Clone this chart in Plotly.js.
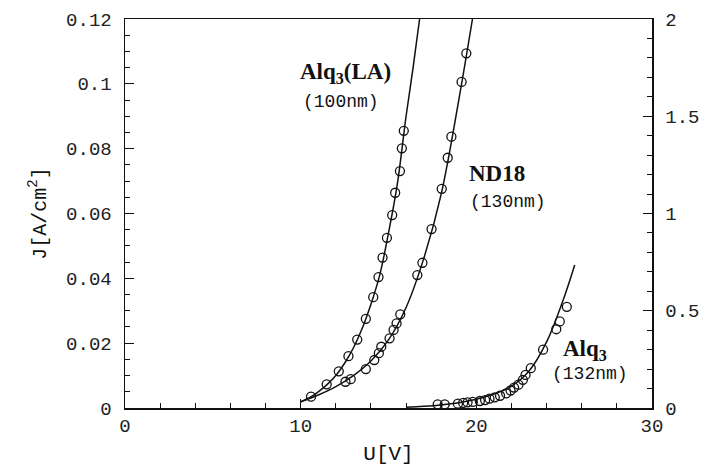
<!DOCTYPE html>
<html>
<head>
<meta charset="utf-8">
<script src="https://cdn.plot.ly/plotly-3.0.1.min.js"></script>
<style>html,body{margin:0;padding:0;background:#fff;}</style>
</head>
<body>
<div id="chart" style="width:701px;height:470px;"></div>
<script>
// Alq3(LA) 100nm — measured points (left axis, A/cm^2)
const alqLA_U = [10.59,11.48,12.17,12.72,13.22,13.71,14.13,14.43,14.66,14.91,15.21,15.38,15.65,15.76,15.87];
const alqLA_J = [0.0035,0.0073,0.0113,0.0160,0.0211,0.0275,0.0342,0.0404,0.0464,0.0525,0.0595,0.0664,0.0731,0.0801,0.0855];
// Alq3(LA) fit curve
const alqLAfit_U = [10,10.5,11,11.5,12,12.5,13,13.5,14,14.5,15,15.5,16,16.4,16.77];
const alqLAfit_J = [0.0019,0.0032,0.0050,0.0072,0.0100,0.0138,0.0185,0.0245,0.032,0.041,0.054,0.069,0.090,0.105,0.12];

// ND18 130nm — measured points (left axis)
const nd18_U = [12.55,12.85,13.71,14.19,14.45,14.59,15.06,15.29,15.46,15.67,16.64,16.93,17.45,18.03,18.37,18.58,19.16,19.43];
const nd18_J = [0.0081,0.0089,0.0120,0.0148,0.0169,0.0189,0.0215,0.0241,0.0261,0.0289,0.0410,0.0448,0.0552,0.0676,0.0772,0.0837,0.1006,0.1094];
// ND18 fit curve
const nd18fit_U = [10,11,12,13,14,15,16,17,18,19,19.78];
const nd18fit_J = [0.0019,0.0040,0.0066,0.0100,0.0145,0.0210,0.031,0.046,0.066,0.095,0.12];

// Alq3 132nm — measured points (right axis)
const alq_U = [17.8,18.2,18.95,19.25,19.5,19.8,20.2,20.5,20.75,21.05,21.35,21.7,21.95,22.15,22.4,22.65,22.8,23.1,23.8,24.55,24.75,25.15];
const alq_J = [0.019,0.019,0.022,0.026,0.029,0.031,0.036,0.041,0.048,0.055,0.063,0.075,0.09,0.105,0.12,0.145,0.17,0.205,0.30,0.405,0.445,0.52];
// Alq3 fit curve (right axis)
const alqfit_U = [16,17,18,19,20,21,22,23,24,25,25.6];
const alqfit_J = [0.004,0.009,0.016,0.027,0.045,0.072,0.112,0.19,0.34,0.57,0.735];

// Axis ticks
const xTicks = [0,10,20,30];
const yTicks = [0,0.02,0.04,0.06,0.08,0.1,0.12];
const yTickText = ['0','0.02','0.04','0.06','0.08','0.1','0.12'];
const y2Ticks = [0,0.5,1,1.5,2];
const y2TickText = ['0','0.5','1','1.5','2'];

const ink = '#111';
const markerStyle = {symbol:'circle-open', size:9, color:ink, line:{width:1.3, color:ink}};
const lineStyle = {color:ink, width:1.5, shape:'spline'};

const traces = [
  {x: alqLAfit_U, y: alqLAfit_J, mode:'lines', line: lineStyle, yaxis:'y', hoverinfo:'skip'},
  {x: alqLA_U, y: alqLA_J, mode:'markers', marker: markerStyle, yaxis:'y'},
  {x: nd18fit_U, y: nd18fit_J, mode:'lines', line: lineStyle, yaxis:'y', hoverinfo:'skip'},
  {x: nd18_U, y: nd18_J, mode:'markers', marker: markerStyle, yaxis:'y'},
  {x: alqfit_U, y: alqfit_J, mode:'lines', line: lineStyle, yaxis:'y2', hoverinfo:'skip'},
  {x: alq_U, y: alq_J, mode:'markers', marker: markerStyle, yaxis:'y2'}
];

const tickFont = {family:'Liberation Mono, DejaVu Sans Mono, monospace', size:19, color:'#222'};
const boldFont = {family:'Liberation Serif, DejaVu Serif, serif', size:23, color:ink};
const nmFont = {family:'Liberation Mono, DejaVu Sans Mono, monospace', size:18, color:ink};

const layout = {
  width:701, height:470,
  margin:{l:125, r:49, t:19, b:62},
  paper_bgcolor:'#fff', plot_bgcolor:'#fff',
  showlegend:false,
  xaxis:{
    range:[0,30], tickvals:xTicks, ticktext:xTicks.map(String),
    ticks:'inside', ticklen:9, tickwidth:1.2, tickcolor:ink,
    minor:{dtick:2, ticks:'inside', ticklen:5, tickwidth:1, tickcolor:ink},
    showline:true, linecolor:ink, linewidth:1.5, mirror:true,
    showgrid:false, zeroline:false,
    tickfont: tickFont,
    title:{text:'U[V]', font:{family:'Liberation Mono, DejaVu Sans Mono, monospace', size:21, color:ink}, standoff:8}
  },
  yaxis:{
    range:[0,0.12], tickvals:yTicks, ticktext:yTickText,
    ticks:'inside', ticklen:9, tickwidth:1.2, tickcolor:ink,
    minor:{dtick:0.005, ticks:'inside', ticklen:5, tickwidth:1, tickcolor:ink},
    showline:true, linecolor:ink, linewidth:1.5,
    showgrid:false, zeroline:false,
    tickfont: tickFont, ticklabelstandoff:8,
    title:{text:'J[A/cm<sup>2</sup>]', font:{family:'Liberation Mono, DejaVu Sans Mono, monospace', size:20, color:ink}, standoff:14}
  },
  yaxis2:{
    range:[0,2], tickvals:y2Ticks, ticktext:y2TickText,
    overlaying:'y', side:'right',
    ticks:'inside', ticklen:9, tickwidth:1.2, tickcolor:ink,
    minor:{dtick:0.1, ticks:'inside', ticklen:5, tickwidth:1, tickcolor:ink},
    showline:true, linecolor:ink, linewidth:1.5,
    showgrid:false, zeroline:false,
    tickfont: tickFont, ticklabelstandoff:8
  },
  annotations:[
    {x:12.55, y:0.1033, xref:'x', yref:'y', text:'<b>Alq<sub>3</sub>(LA)</b>', showarrow:false, font:boldFont},
    {x:12.32, y:0.0944, xref:'x', yref:'y', text:'(100nm)', showarrow:false, font:nmFont},
    {x:21.16, y:0.0722, xref:'x', yref:'y', text:'<b>ND18</b>', showarrow:false, font:boldFont},
    {x:21.79, y:0.0636, xref:'x', yref:'y', text:'(130nm)', showarrow:false, font:nmFont},
    {x:26.18, y:0.0180, xref:'x', yref:'y', text:'<b>Alq<sub>3</sub></b>', showarrow:false, font:boldFont},
    {x:26.47, y:0.0106, xref:'x', yref:'y', text:'(132nm)', showarrow:false, font:nmFont}
  ]
};

Plotly.newPlot('chart', traces, layout, {displayModeBar:false, staticPlot:true});
</script>
</body>
</html>
